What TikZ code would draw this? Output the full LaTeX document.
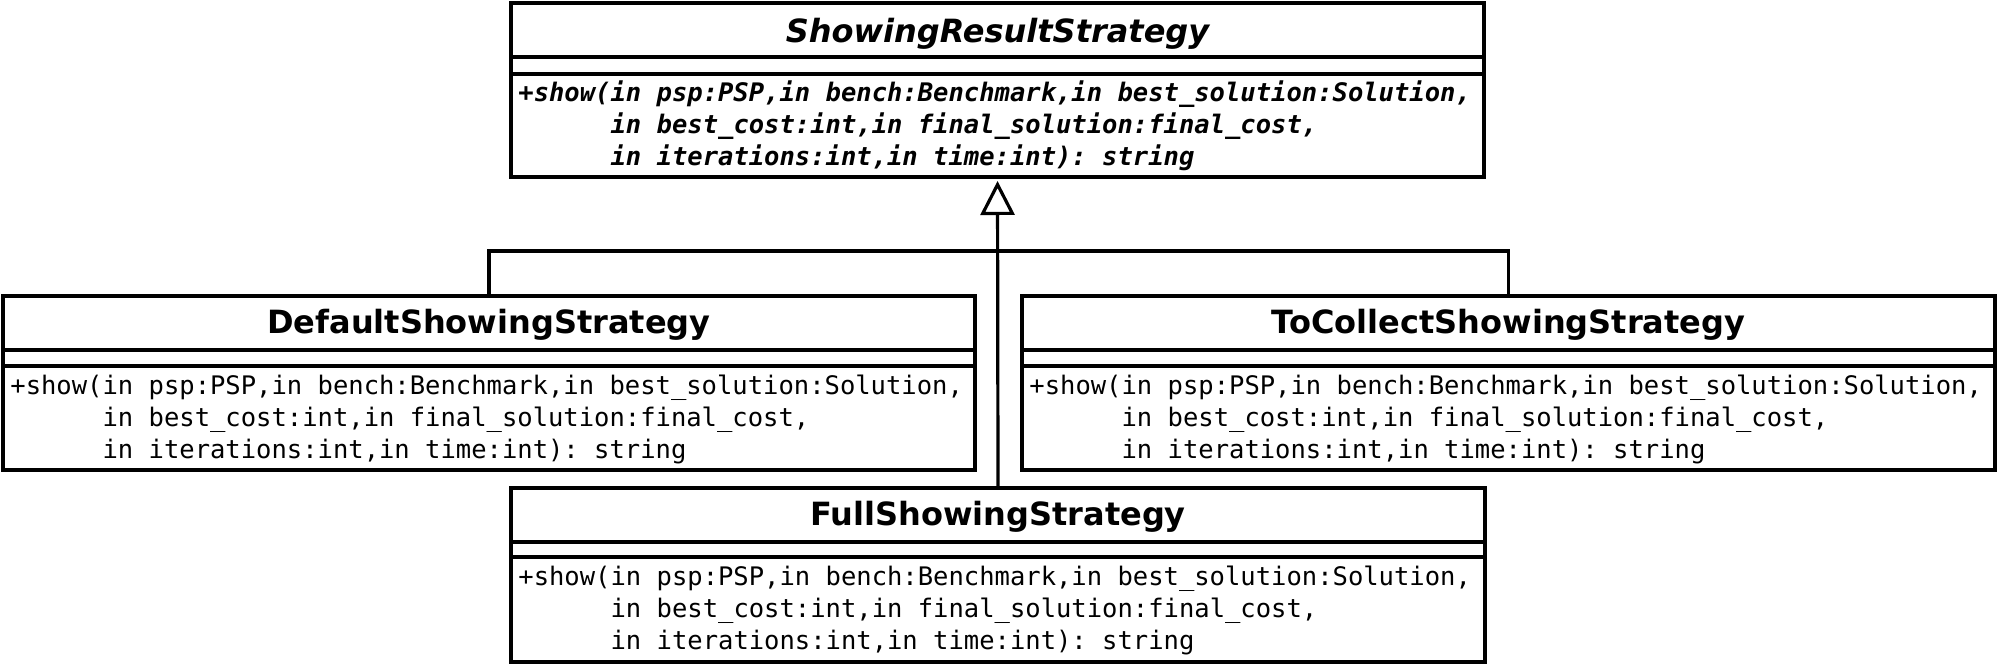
\documentclass[tikz,border=0pt]{standalone}
\usepackage{fontspec}
\setmainfont{DejaVu Sans}
\setmonofont{DejaVu Sans Mono}
\usetikzlibrary{arrows.meta,fit}
\tikzset{
  boxframe/.style={draw=black, line width=2pt, inner sep=0pt, outer sep=0pt, fill=white},
  divider/.style={line width=2pt},
  titletext/.style={font=\bfseries\fontsize{16}{19}\selectfont, inner sep=0pt, anchor=base},
  methtext/.style={font=\ttfamily\fontsize{12.76}{16}\selectfont, inner sep=0pt, anchor=base west},
  conn/.style={line width=1.6pt},
}
\newcommand\umlbox[7]{%
  \node[boxframe, fit={(#2,#3) (#4,#5)}] (#1) {};
  \draw[divider] (#2,#6) -- (#4,#6);
  \draw[divider] (#2,#7) -- (#4,#7);
}
\newcommand\umlmeth[4]{%
  \node[methtext] (#1a) at (#2,#3) {#4+show(in psp:PSP,in bench:Benchmark,in best\_solution:Solution,};
  \node[methtext] (#1b) at (#2,#3+32) {#4\phantom{+show(}in best\_cost:int,in final\_solution:final\_cost,};
  \node[methtext] (#1c) at (#2,#3+64) {#4\phantom{+show(}in iterations:int,in time:int): string};
}
\begin{document}
\begin{tikzpicture}[x=0.5pt,y=-0.5pt]
  \fill[white] (0,0) rectangle (2000,664);
  \useasboundingbox (0,0) rectangle (2000,664);
  % abstract class
  \umlbox{T}{511}{3}{1484}{177}{57}{74}
  \node[titletext] (Tt) at (997.5,42) {\itshape ShowingResultStrategy};
  \umlmeth{Tm}{518}{101}{\bfseries\itshape}
  % default
  \umlbox{D}{3}{296}{975}{470}{350}{366}
  \node[titletext] (Dt) at (489,333) {DefaultShowingStrategy};
  \umlmeth{Dm}{10}{394}{}
  % to collect
  \umlbox{C}{1022}{296}{1995}{470}{350}{366}
  \node[titletext] (Ct) at (1508.5,333) {ToCollectShowingStrategy};
  \umlmeth{Cm}{1029}{394}{}
  % full
  \umlbox{F}{511}{488}{1485}{662}{542}{557}
  \node[titletext] (Ft) at (998,525) {FullShowingStrategy};
  \umlmeth{Fm}{518}{585}{}
  % connectors
  \coordinate (j) at (998,251);
  \draw[conn] (D.north) |- (j) -| (C.north);
  \draw[conn, -{Triangle[open, length=17pt, width=17pt, line width=1.6pt]}, shorten >=2pt] (F.north) -- (T.south);
\end{tikzpicture}
\end{document}
